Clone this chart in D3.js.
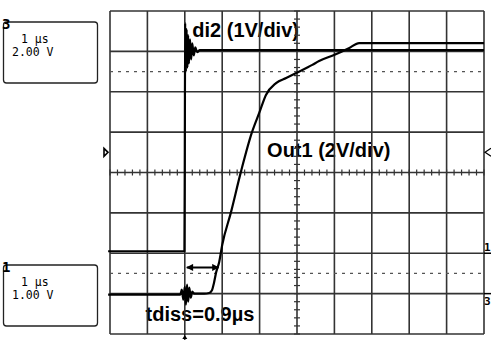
<!DOCTYPE html>
<html>
<head>
<meta charset="utf-8">
<script src="https://cdn.jsdelivr.net/npm/d3@7"></script>
<style>
  body { margin: 0; background: #fff; }
  svg { display: block; }
</style>
</head>
<body>
<svg id="scope" width="491" height="350"></svg>
<script>
// time base 1 µs/div, trigger at t = 0
const timeDomain = [-2, 8];
const divDomain = [0, 8];

// channel 1 : di2, 1 V/div, ground 2 div above bottom
const di2Time  = [-2.05, -1.0, -0.01, 0.0, 0.01, 0.03, 0.05, 0.07, 0.09, 0.11, 0.14, 0.17, 0.2, 0.24, 0.28, 0.33, 0.4, 1.0, 2.0, 3.0, 4.0, 5.0, 6.0, 7.0, 8.0];
const di2Volts = [0.05, 0.05, 0.05, 2.5, 5.7, 4.5, 5.55, 4.6, 5.4, 4.7, 5.3, 4.8, 5.2, 4.9, 5.1, 4.98, 5.03, 5.03, 5.03, 5.03, 5.03, 5.03, 5.03, 5.03, 5.03];

// channel 3 : Out1, 2 V/div, ground 1 div above bottom
const out1Time  = [-2.05, -1.0, -0.12, -0.08, -0.04, 0.0, 0.03, 0.06, 0.09, 0.12, 0.16, 0.2, 0.25, 0.52, 0.65, 0.73, 0.78, 0.84, 0.92, 1.0, 1.23, 1.5, 1.79, 1.99, 2.17, 2.44, 2.71, 2.98, 3.41, 3.59, 3.99, 4.4, 4.66, 5.5, 6.5, 8.0];
const out1Volts = [-0.05, -0.05, -0.05, 0.2, -0.3, 0.35, -0.55, 0.45, -0.4, 0.3, -0.2, 0.1, 0.0, 0.0, 0.03, 0.18, 0.53, 1.07, 1.57, 2.41, 4.0, 6.03, 7.96, 8.95, 9.84, 10.43, 10.68, 10.93, 11.33, 11.52, 11.82, 12.17, 12.41, 12.41, 12.41, 12.41];

const channels = [
  { name: "di2", num: "1", voltsPerDiv: 1, ground: 2, time: di2Time, volts: di2Volts },
  { name: "Out1", num: "3", voltsPerDiv: 2, ground: 1, time: out1Time, volts: out1Volts }
];

const tdiss = [0, 0.9];   // µs
const tdissLevel = 1.65;  // div
const refLevels = [6.5, 1.5]; // dotted lines, div

const svg = d3.select("#scope");

const x = d3.scaleLinear().domain(timeDomain).range([110, 484]);
const y = d3.scaleLinear().domain(divDomain).range([334, 11]);

// labels (under the graticule, like on the screen)
const labelFont = "'Liberation Sans', Arial, sans-serif";
svg.append("text").attr("x", x(0.2)).attr("y", 37)
  .attr("font-family", labelFont).attr("font-weight", "bold").attr("font-size", 20)
  .text("di2 (1V/div)");
svg.append("text").attr("x", x(2.2)).attr("y", 157)
  .attr("font-family", labelFont).attr("font-weight", "bold").attr("font-size", 20)
  .text("Out1 (2V/div)");
svg.append("text").attr("x", x(-1.05)).attr("y", 321)
  .attr("font-family", labelFont).attr("font-weight", "bold").attr("font-size", 20)
  .text("tdiss=0.9µs");

// graticule
const grid = svg.append("g").attr("stroke", "#333").attr("stroke-width", 1.6);
grid.selectAll(".vx").data(x.ticks(10)).join("line")
  .attr("x1", d => x(d)).attr("x2", d => x(d)).attr("y1", y(0)).attr("y2", y(8));
grid.selectAll(".hy").data(y.ticks(8)).join("line")
  .attr("y1", d => y(d)).attr("y2", d => y(d)).attr("x1", x(-2)).attr("x2", x(8));

// minor ticks on the centre lines
const minorX = d3.range(-2, 8.001, 0.2);
const minorY = d3.range(0, 8.001, 0.2);
const ticks = svg.append("g").attr("stroke", "#333").attr("stroke-width", 1.2);
ticks.selectAll(".mx").data(minorX).join("line")
  .attr("x1", d => x(d)).attr("x2", d => x(d)).attr("y1", y(4) - 3).attr("y2", y(4) + 3);
ticks.selectAll(".my").data(minorY).join("line")
  .attr("y1", d => y(d)).attr("y2", d => y(d)).attr("x1", x(3) - 3).attr("x2", x(3) + 3);

// dotted reference levels
svg.selectAll(".ref").data(refLevels).join("line")
  .attr("x1", x(-2)).attr("x2", x(8)).attr("y1", d => y(d)).attr("y2", d => y(d))
  .attr("stroke", "#555").attr("stroke-width", 1.2).attr("stroke-dasharray", "3,5");

// traces
const line = ch => d3.line()
  .x(d => x(d[0]))
  .y(d => y(ch.ground + d[1] / ch.voltsPerDiv))
  .curve(d3.curveMonotoneX);
channels.forEach(ch => {
  svg.append("path")
    .datum(d3.zip(ch.time, ch.volts))
    .attr("d", line(ch))
    .attr("fill", "none").attr("stroke", "#000").attr("stroke-width", 2.2)
    .attr("stroke-linejoin", "round");
});

// tdiss arrow
const defs = svg.append("defs");
defs.append("marker").attr("id", "ah").attr("viewBox", "0 0 10 10")
  .attr("refX", 9).attr("refY", 5).attr("markerWidth", 9).attr("markerHeight", 7)
  .attr("markerUnits", "userSpaceOnUse").attr("orient", "auto-start-reverse")
  .append("path").attr("d", "M0,0L10,5L0,10z").attr("fill", "#000");
svg.append("line")
  .attr("x1", x(tdiss[0]) + 2).attr("x2", x(tdiss[1]))
  .attr("y1", y(tdissLevel)).attr("y2", y(tdissLevel))
  .attr("stroke", "#000").attr("stroke-width", 2)
  .attr("marker-start", "url(#ah)").attr("marker-end", "url(#ah)");

// channel boxes
const monoFont = "'DejaVu Sans Mono', monospace";
const boxes = [
  { num: "3", top: 22, perDiv: "2.00 V" },
  { num: "1", top: 265, perDiv: "1.00 V" }
];
boxes.forEach(b => {
  svg.append("rect").attr("x", 3.5).attr("y", b.top).attr("width", 94).attr("height", 61)
    .attr("rx", 3).attr("fill", "#fff").attr("stroke", "#222").attr("stroke-width", 1.3);
  svg.append("text").attr("x", 2).attr("y", b.top + 7)
    .attr("font-family", monoFont).attr("font-weight", "bold").attr("font-size", 14)
    .text(b.num);
  svg.append("text").attr("x", 21).attr("y", b.top + 21)
    .attr("font-family", monoFont).attr("font-size", 11.5).text("1 µs");
  svg.append("text").attr("x", 12).attr("y", b.top + 34)
    .attr("font-family", monoFont).attr("font-size", 11.5).text(b.perDiv);
});

// ground markers at right edge
channels.forEach(ch => {
  const gy = y(ch.ground);
  svg.append("line").attr("x1", x(8)).attr("x2", 491).attr("y1", gy).attr("y2", gy)
    .attr("stroke", "#000").attr("stroke-width", 1.5);
  svg.append("text").attr("x", 490.5).attr("y", ch.num === "1" ? gy - 2 : gy + 11)
    .attr("text-anchor", "end")
    .attr("font-family", monoFont).attr("font-weight", "bold").attr("font-size", 11)
    .text(ch.num);
});

// trigger markers
svg.append("path")
  .attr("d", `M${x(8) + 7},${y(4.5) - 4}L${x(8) + 1},${y(4.5)}L${x(8) + 7},${y(4.5) + 4}`)
  .attr("fill", "none").attr("stroke", "#000").attr("stroke-width", 1.2);
svg.append("path")
  .attr("d", `M${x(-2) - 6},${y(4.5) - 4}L${x(-2) - 2},${y(4.5)}L${x(-2) - 6},${y(4.5) + 4}z`)
  .attr("fill", "none").attr("stroke", "#000").attr("stroke-width", 1.6);
svg.append("line").attr("x1", x(0)).attr("x2", x(0)).attr("y1", y(0)).attr("y2", y(0) + 6)
  .attr("stroke", "#000").attr("stroke-width", 1.2);
svg.append("path")
  .attr("d", `M${x(0) - 2.5},${y(0) + 5}L${x(0)},${y(0) + 1}L${x(0) + 2.5},${y(0) + 5}z`)
  .attr("fill", "#000");
</script>
</body>
</html>
